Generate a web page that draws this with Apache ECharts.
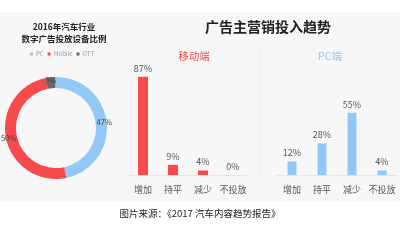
<!DOCTYPE html>
<html><head><meta charset="utf-8">
<script src="https://cdn.jsdelivr.net/npm/echarts@6/dist/echarts.min.js"></script>
<style>html,body{margin:0;padding:0;background:#fff}#c{width:400px;height:250px}</style>
</head><body><div id="c"></div>
<script>
const pieNames = ['PC', 'Mobile', 'OTT'];
const pieValues = [47, 50, 3];
const categories = ['增加', '持平', '减少', '不投放'];
const mobileValues = [87, 9, 4, 0];
const pcValues = [12, 28, 55, 4];

const RED = '#f64a4c', BLUE = '#93c7f5', GRAY = '#6a6a6a';
const font = '"Noto Sans CJK SC", "Noto Sans", sans-serif';
const chart = echarts.init(document.getElementById('c'), null, {renderer: 'canvas'});
const labelFmt = p => p.value + '%';
chart.setOption({
  backgroundColor: '#fff',
  animation: false,
  textStyle: {fontFamily: font},
  graphic: [
    {type: 'rect', z: -10, shape: {x: 0, y: 12, width: 400, height: 189}, style: {fill: '#f8f7f7'}},
    {type: 'line', z: 1, shape: {x1: 260, y1: 46, x2: 260, y2: 176}, style: {stroke: '#ebebeb', lineWidth: 1}},
    {type: 'text', left: 'center', top: 209, style: {text: '图片来源：《2017 汽车内容趋势报告》', font: '9.5px ' + font, fill: '#222'}}
  ],
  title: [
    {text: '2016年汽车行业\n数字广告投放设备比例', left: 59, textAlign: 'center', top: 16,
     textStyle: {fontSize: 8.5, fontWeight: 'bold', color: '#222', lineHeight: 12, fontFamily: font}},
    {text: '广告主营销投入趋势', left: 263, textAlign: 'center', top: 15,
     textStyle: {fontSize: 14, fontWeight: 'bold', color: '#222', fontFamily: font}},
    {text: '移动端', left: 189, textAlign: 'center', top: 46,
     textStyle: {fontSize: 10.5, fontWeight: 'normal', color: RED, fontFamily: font}},
    {text: 'PC端', left: 325, textAlign: 'center', top: 46,
     textStyle: {fontSize: 10.5, fontWeight: 'normal', color: BLUE, fontFamily: font}}
  ],
  legend: {data: pieNames, left: 25, top: 46, itemWidth: 3, itemHeight: 3, itemGap: 4,
    textStyle: {fontSize: 6, color: '#999', padding: [0, 0, 0, -2]}, icon: 'rect'},
  grid: [
    {left: 128, width: 120, top: 62, height: 113},
    {left: 277, width: 120, top: 62, height: 113}
  ],
  xAxis: [0, 1].map(i => ({type: 'category', gridIndex: i, data: categories,
    axisLine: {lineStyle: {color: '#e6e6e6'}}, axisTick: {show: false},
    axisLabel: {color: '#555', fontSize: 9, margin: 10, interval: 0}})),
  yAxis: [0, 1].map(i => ({type: 'value', gridIndex: i, min: 0, max: 100, show: false})),
  series: [
    {type: 'pie', radius: [40, 51], center: [56, 128], startAngle: 91,
     data: pieNames.map((n, i) => ({name: n, value: pieValues[i]})),
     color: [BLUE, RED, GRAY],
     label: {position: 'inside', formatter: '{d}%', fontSize: 7.5, color: '#444'},
     labelLine: {show: false}},
    {type: 'bar', xAxisIndex: 0, yAxisIndex: 0, data: mobileValues, barWidth: 10,
     itemStyle: {color: RED}, label: {show: true, position: 'top', formatter: labelFmt, color: '#555', fontSize: 9, distance: 4}},
    {type: 'bar', xAxisIndex: 1, yAxisIndex: 1, data: pcValues, barWidth: 9,
     itemStyle: {color: BLUE}, label: {show: true, position: 'top', formatter: labelFmt, color: '#555', fontSize: 9, distance: 4}}
  ]
});
</script></body></html>
